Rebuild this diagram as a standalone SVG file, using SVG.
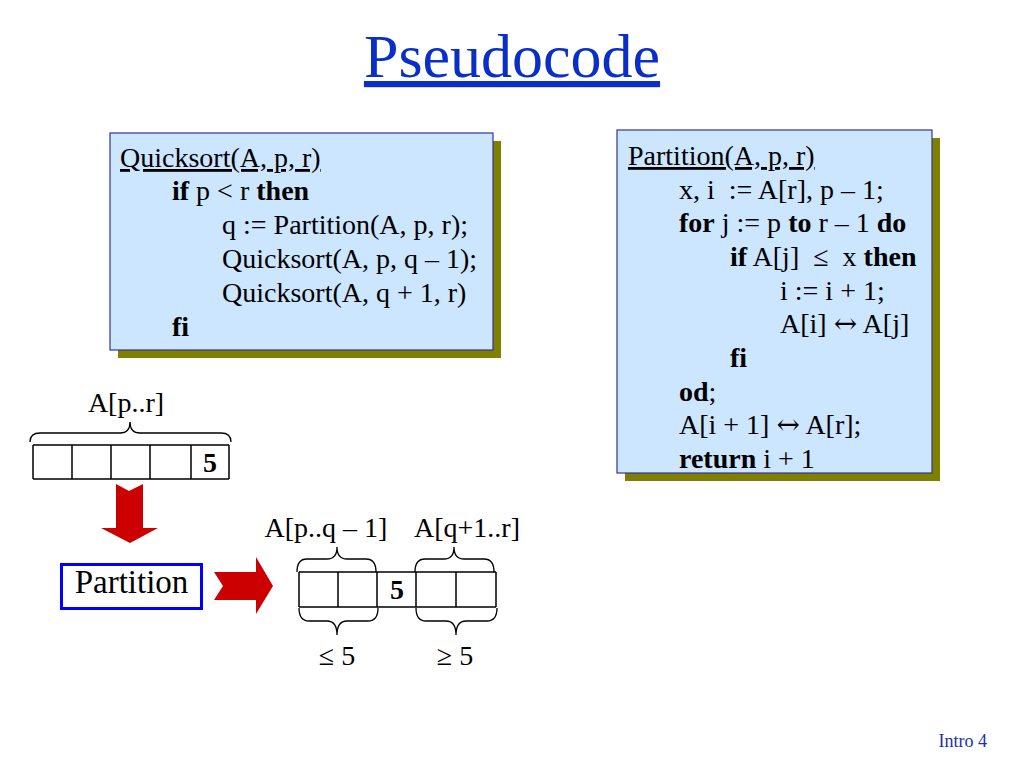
<svg xmlns="http://www.w3.org/2000/svg" width="1024" height="768" viewBox="0 0 1024 768">
<style>
text{font-family:"Liberation Serif","Times New Roman",serif;fill:#000}
.code{font-size:28px}
.b{font-weight:bold}
.sym{font-family:"DejaVu Serif","DejaVu Sans",serif}
.box{fill:#CCE6FF;stroke:#333399;stroke-width:1.2}
.shadow{fill:#808000}
.ln{stroke:#000;stroke-width:1.5;fill:none}
.brace{stroke:#000;stroke-width:1.3;fill:none}
.arrow{fill:#CC0000}
</style>
<rect width="1024" height="768" fill="#fff"/>
<g id="title">
<text x="512" y="77" text-anchor="middle" style="font-size:62px;fill:#0A2FC8" text-decoration="underline">Pseudocode</text>
</g>
<g id="quicksort">
<rect class="shadow" x="118" y="141" width="383" height="217"/>
<rect class="box" x="110" y="133" width="383" height="217"/>
<text class="code" x="120" y="167" text-decoration="underline">Quicksort(A, p, r)</text>
<text class="code" x="172" y="200"><tspan class="b">if</tspan> p &lt; r <tspan class="b">then</tspan></text>
<text class="code" x="222" y="234">q := Partition(A, p, r);</text>
<text class="code" x="222" y="268">Quicksort(A, p, q – 1);</text>
<text class="code" x="222" y="302">Quicksort(A, q + 1, r)</text>
<text class="code b" x="172" y="336">fi</text>
</g>
<g id="partition-code">
<rect class="shadow" x="625" y="138" width="315" height="343"/>
<rect class="box" x="617" y="130" width="315" height="343"/>
<text class="code" x="628" y="165" text-decoration="underline">Partition(A, p, r)</text>
<text class="code" x="679" y="199" xml:space="preserve">x, i  := A[r], p – 1;</text>
<text class="code" x="679" y="232"><tspan class="b">for</tspan> j := p <tspan class="b">to</tspan> r – 1 <tspan class="b">do</tspan></text>
<text class="code" x="730" y="266" xml:space="preserve"><tspan class="b">if</tspan> A[j]  ≤  x <tspan class="b">then</tspan></text>
<text class="code" x="780" y="300">i := i + 1;</text>
<text class="code" x="780" y="333">A[i] <tspan class="sym">↔</tspan> A[j]</text>
<text class="code b" x="730" y="367">fi</text>
<text class="code" x="679" y="401"><tspan class="b">od</tspan>;</text>
<text class="code" x="679" y="434">A[i + 1] <tspan class="sym">↔</tspan> A[r];</text>
<text class="code" x="679" y="468"><tspan class="b">return</tspan> i + 1</text>
</g>
<g id="array-input">
<text class="code" x="126" y="412" text-anchor="middle">A[p..r]</text>
<path class="brace" d="M30,442 Q30,433 40,433 L120,433 Q130,433 130,422 Q130,433 140,433 L221,433 Q231,433 231,442"/>
<path class="ln" d="M33,445 H229 M33,479 H229 M33,445 V479 M72,445 V479 M111,445 V479 M150,445 V479 M191,445 V479 M229,445 V479"/>
<text class="code b" x="210" y="472" text-anchor="middle">5</text>
</g>
<g id="partition-node">
<rect x="61.5" y="564.5" width="140" height="44" fill="#fff" stroke="#0000FF" stroke-width="3"/>
<text x="131.5" y="593" text-anchor="middle" style="font-size:33px">Partition</text>
</g>
<g id="array-output">
<text class="code" x="326" y="537" text-anchor="middle">A[p..q – 1]</text>
<text class="code" x="467" y="537" text-anchor="middle">A[q+1..r]</text>
<path class="brace" d="M297,572 Q297,559 307,559 L327,559 Q337,559 337,547 Q337,559 347,559 L366,559 Q376,559 376,572"/>
<path class="brace" d="M415,572 Q415,559 425,559 L444,559 Q454,559 454,547 Q454,559 464,559 L484,559 Q494,559 494,572"/>
<path class="ln" d="M299,572 H496 M299,607 H496 M299,572 V607 M338,572 V607 M377,572 V607 M416,572 V607 M456,572 V607 M496,572 V607"/>
<text class="code b" x="397" y="599" text-anchor="middle">5</text>
<path class="brace" d="M299,608 Q299,621 309,621 L327,621 Q337,621 337,635 Q337,621 347,621 L368,621 Q378,621 378,608"/>
<path class="brace" d="M416,608 Q416,621 426,621 L446,621 Q456,621 456,635 Q456,621 466,621 L487,621 Q497,621 497,608"/>
<text class="code" x="337" y="665" text-anchor="middle">≤ 5</text>
<text class="code" x="455" y="665" text-anchor="middle">≥ 5</text>
</g>
<g id="connectors">
<polygon class="arrow" points="116,484 129,491 143,484 143,528 158,528 130,543 101,528 116,528"/>
<polygon class="arrow" points="214,572 223,586 214,600 256,600 256,614 273,586 256,557 256,572"/>
</g>
<g id="footer">
<text x="987" y="747" text-anchor="end" style="font-size:18px;fill:#1A2FB0">Intro 4</text>
</g>
</svg>
